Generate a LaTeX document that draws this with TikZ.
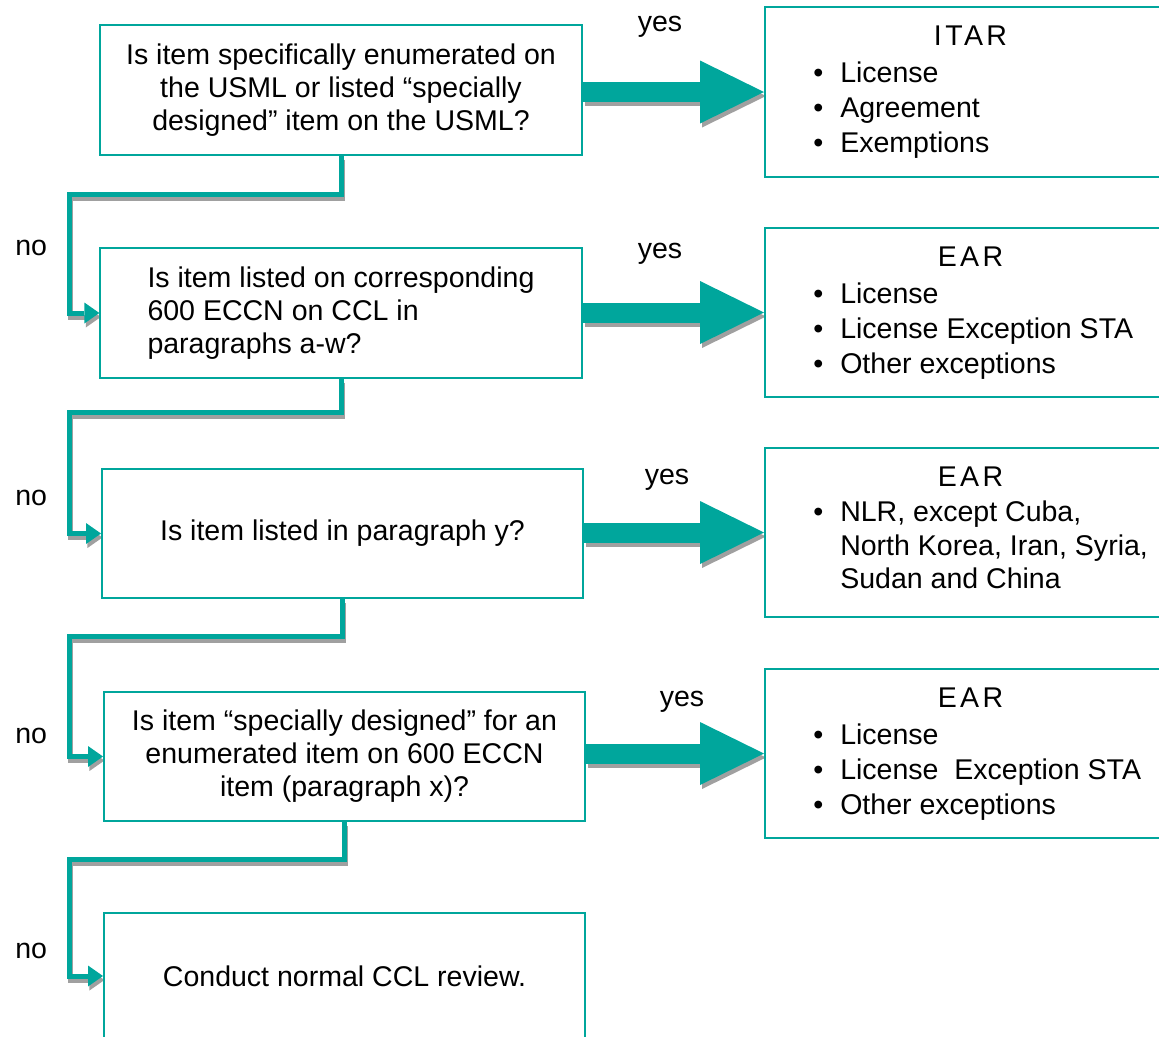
\documentclass[tikz,border=0pt]{standalone}
\usepackage{fontspec}
\setmainfont{Liberation Sans}
\usetikzlibrary{arrows.meta,calc}
\definecolor{tealc}{RGB}{0,166,156}
\definecolor{shad}{RGB}{160,160,160}
\pgfdeclarelayer{bg}
\pgfsetlayers{bg,main}
\newcommand\bul{\makebox[20.25pt][l]{•}}
\begin{document}
\begin{tikzpicture}[x=0.75pt,y=-0.75pt,line join=miter,
  every node/.style={font=\fontsize{21.4}{24.75}\selectfont, text=black},
  lbox/.style={draw=tealc, line width=1.5pt, inner sep=0pt, align=center,
               minimum width=361pt, minimum height=97pt},
  rbox/.style={draw=tealc, line width=1.5pt, inner sep=0pt,
               minimum width=308.25pt, minimum height=127pt},
  conn/.style={draw=tealc, line width=3.75pt,
               -{Triangle[length=11.25pt,width=15.75pt,line width=0pt]}},
  big/.style={draw=tealc, line width=15pt,
               -{Triangle[length=48pt,width=47.25pt,line width=0pt]}},
  lbl/.style={anchor=base west, inner sep=0pt},
  ttl/.style={anchor=base, inner sep=0pt, font=\fontsize{21.4}{24.75}\selectfont\addfontfeatures{LetterSpace=12}},
]
\useasboundingbox (0,0) rectangle (1159,1036);
\coordinate (lx) at (69,0);

% left boxes
\node[lbox] (b1) at (341,90) {Is item specifically enumerated on\\the USML or listed “specially\\designed” item on the USML?};
\node[lbox, align=left] (b2) at (341,313) {Is item listed on corresponding\\600 ECCN on CCL in\\paragraphs a-w?};
\node[lbox, minimum width=360.75pt, minimum height=96.75pt] (b3) at (342.5,533.5) {Is item listed in paragraph y?};
\node[lbox, minimum width=360.75pt, minimum height=96.75pt] (b4) at (344.5,756.5) {Is item “specially designed” for an\\enumerated item on 600 ECCN\\item (paragraph x)?};
\node[lbox, minimum width=360.75pt, minimum height=95pt] (b5) at (344.5,976) {Conduct normal CCL review.};

% right boxes
\node[rbox] (r1) at (970.5,92) {};
\node[rbox] (r2) at (970.5,312.5) {};
\node[rbox] (r3) at (970.5,532.5) {};
\node[rbox] (r4) at (970.5,753.5) {};

% right box texts
\node[ttl] (t1) at (970.5,45) {ITAR};
\node[lbl] (t1a) at (813,82) {\bul License};
\node[lbl] (t1b) at (813,117) {\bul Agreement};
\node[lbl] (t1c) at (813,152) {\bul Exemptions};

\node[ttl] (t2) at (970.5,266) {EAR};
\node[lbl] (t2a) at (813,303) {\bul License};
\node[lbl] (t2b) at (813,338) {\bul License Exception STA};
\node[lbl] (t2c) at (813,373) {\bul Other exceptions};

\node[ttl] (t3) at (970.5,486) {EAR};
\node[lbl] (t3a) at (813,521) {\bul NLR, except Cuba,};
\node[lbl] (t3b) at (840,555) {North Korea, Iran, Syria,};
\node[lbl] (t3c) at (840,588) {Sudan and China};

\node[ttl] (t4) at (970.5,707) {EAR};
\node[lbl] (t4a) at (813,744) {\bul License};
\node[lbl] (t4b) at (813,779) {\bul License~ Exception STA};
\node[lbl] (t4c) at (813,814) {\bul Other exceptions};

% yes / no labels
\node[anchor=base, inner sep=0pt] (y1) at (660,31) {yes};
\node[anchor=base, inner sep=0pt] (y2) at (660,258) {yes};
\node[anchor=base, inner sep=0pt] (y3) at (667,484) {yes};
\node[anchor=base, inner sep=0pt] (y4) at (682,706) {yes};
\node[lbl] (n1) at (15,255) {no};
\node[lbl] (n2) at (15,505) {no};
\node[lbl] (n3) at (15,743) {no};
\node[lbl] (n4) at (15,958) {no};

\begin{pgfonlayer}{bg}
  % shadows
  \begin{scope}[transform canvas={xshift=1.5pt,yshift=-3pt}]
    \draw[big, draw=shad] (b1.east |- r1.west) -- (r1.west);
    \draw[big, draw=shad] (b2.east |- r2.west) -- (r2.west);
    \draw[big, draw=shad] (b3.east |- r3.west) -- (r3.west);
    \draw[big, draw=shad] (b4.east |- r4.west) -- (r4.west);
  \end{scope}
  \begin{scope}[transform canvas={xshift=1.1pt,yshift=-3pt}]
    \draw[conn, draw=shad] (b1.south) -- ++(0,39) -| (b2.west -| lx) -- (b2.west);
    \draw[conn, draw=shad] (b2.south) -- ++(0,34) -| (b3.west -| lx) -- (b3.west);
    \draw[conn, draw=shad] (b3.south) -- ++(0,37) -| (b4.west -| lx) -- (b4.west);
    \draw[conn, draw=shad] (b4.south) -- ++(0,37) -| (b5.west -| lx) -- (b5.west);
  \end{scope}
  % teal arrows
  \draw[big] (b1.east |- r1.west) -- (r1.west);
  \draw[big] (b2.east |- r2.west) -- (r2.west);
  \draw[big] (b3.east |- r3.west) -- (r3.west);
  \draw[big] (b4.east |- r4.west) -- (r4.west);
  \draw[conn] (b1.south) -- ++(0,39) -| (b2.west -| lx) -- (b2.west);
  \draw[conn] (b2.south) -- ++(0,34) -| (b3.west -| lx) -- (b3.west);
  \draw[conn] (b3.south) -- ++(0,37) -| (b4.west -| lx) -- (b4.west);
  \draw[conn] (b4.south) -- ++(0,37) -| (b5.west -| lx) -- (b5.west);
\end{pgfonlayer}
\end{tikzpicture}
\end{document}
